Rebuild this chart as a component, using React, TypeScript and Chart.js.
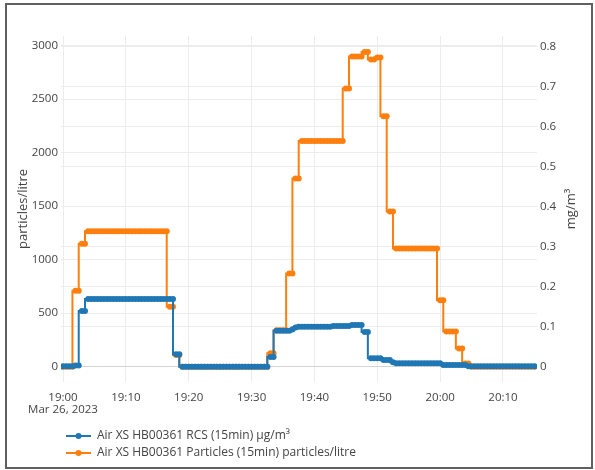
import React, { useEffect, useRef } from 'react';
import { Chart, registerables } from 'chart.js';

Chart.register(...registerables);

// ---- data (one sample every 30 s, minutes after 19:00) ----
const sampleMinutes = [
  0, 0.5, 1, 1.5, 2, 2.5, 3, 3.5, 4, 4.5,
  5, 5.5, 6, 6.5, 7, 7.5, 8, 8.5, 9, 9.5,
  10, 10.5, 11, 11.5, 12, 12.5, 13, 13.5, 14, 14.5,
  15, 15.5, 16, 16.5, 17, 17.5, 18, 18.5, 19, 19.5,
  20, 20.5, 21, 21.5, 22, 22.5, 23, 23.5, 24, 24.5,
  25, 25.5, 26, 26.5, 27, 27.5, 28, 28.5, 29, 29.5,
  30, 30.5, 31, 31.5, 32, 32.5, 33, 33.5, 34, 34.5,
  35, 35.5, 36, 36.5, 37, 37.5, 38, 38.5, 39, 39.5,
  40, 40.5, 41, 41.5, 42, 42.5, 43, 43.5, 44, 44.5,
  45, 45.5, 46, 46.5, 47, 47.5, 48, 48.5, 49, 49.5,
  50, 50.5, 51, 51.5, 52, 52.5, 53, 53.5, 54, 54.5,
  55, 55.5, 56, 56.5, 57, 57.5, 58, 58.5, 59, 59.5,
  60, 60.5, 61, 61.5, 62, 62.5, 63, 63.5, 64, 64.5,
  65, 65.5, 66, 66.5, 67, 67.5, 68, 68.5, 69, 69.5,
  70, 70.5, 71, 71.5, 72, 72.5, 73, 73.5, 74, 74.5,
  75,
];

const particlesPerLitre = [
  0, 0, 0, 0, 710, 710, 1150, 1150, 1265, 1265,
  1265, 1265, 1265, 1265, 1265, 1265, 1265, 1265, 1265, 1265,
  1265, 1265, 1265, 1265, 1265, 1265, 1265, 1265, 1265, 1265,
  1265, 1265, 1265, 1265, 560, 560, 110, 110, 0, 0,
  0, 0, 0, 0, 0, 0, 0, 0, 0, 0,
  0, 0, 0, 0, 0, 0, 0, 0, 0, 0,
  0, 0, 0, 0, 0, 0, 125, 125, 340, 340,
  340, 340, 870, 870, 1760, 1760, 2110, 2110, 2110, 2110,
  2110, 2110, 2110, 2110, 2110, 2110, 2110, 2110, 2110, 2110,
  2600, 2600, 2900, 2900, 2900, 2900, 2940, 2940, 2870, 2870,
  2890, 2890, 2340, 2340, 1450, 1450, 1105, 1105, 1105, 1105,
  1105, 1105, 1105, 1105, 1105, 1105, 1105, 1105, 1105, 1105,
  620, 620, 330, 330, 330, 330, 170, 170, 30, 30,
  0, 0, 0, 0, 0, 0, 0, 0, 0, 0,
  0, 0, 0, 0, 0, 0, 0, 0, 0, 0,
  0,
];

const rcsMgM3 = [
  0.001, 0.001, 0.001, 0.001, 0.003, 0.003, 0.139, 0.139, 0.169, 0.169,
  0.169, 0.169, 0.169, 0.169, 0.169, 0.169, 0.169, 0.169, 0.169, 0.169,
  0.169, 0.169, 0.169, 0.169, 0.169, 0.169, 0.169, 0.169, 0.169, 0.169,
  0.169, 0.169, 0.169, 0.169, 0.169, 0.169, 0.031, 0.031, 0, 0,
  0, 0, 0, 0, 0, 0, 0, 0, 0, 0,
  0, 0, 0, 0, 0, 0, 0, 0, 0, 0,
  0, 0, 0, 0, 0, 0, 0.024, 0.024, 0.09, 0.09,
  0.09, 0.09, 0.09, 0.093, 0.098, 0.1, 0.1, 0.1, 0.1, 0.1,
  0.1, 0.1, 0.1, 0.1, 0.1, 0.1, 0.102, 0.102, 0.102, 0.102,
  0.102, 0.102, 0.104, 0.104, 0.104, 0.104, 0.087, 0.087, 0.021, 0.021,
  0.021, 0.021, 0.017, 0.017, 0.017, 0.011, 0.0085, 0.0085, 0.0085, 0.0085,
  0.0085, 0.0085, 0.0085, 0.0085, 0.0085, 0.0085, 0.0085, 0.0085, 0.0085, 0.0085,
  0.0085, 0.004, 0.004, 0.004, 0.004, 0.004, 0.004, 0.004, 0.004, 0.001,
  0.001, 0.001, 0.001, 0.001, 0.001, 0.001, 0.001, 0.001, 0.001, 0.001,
  0.001, 0.001, 0.001, 0.001, 0.001, 0.001, 0.001, 0.001, 0.001, 0.001,
  0.001,
];

const seriesNames = [
  'Air XS HB00361 RCS (15min) μg/m³',
  'Air XS HB00361 Particles (15min) particles/litre',
];
const seriesColors = ['#1f77b4', '#ff7f0e'];

const xTickMinutes = [0, 10, 20, 30, 40, 50, 60, 70];
const xTickLabels = ['19:00', '19:10', '19:20', '19:30', '19:40', '19:50', '20:00', '20:10'];
const dateLabel = 'Mar 26, 2023';
const leftTicks = [0, 500, 1000, 1500, 2000, 2500, 3000];
const rightTicks = [0, 0.1, 0.2, 0.3, 0.4, 0.5, 0.6, 0.7, 0.8];
const leftTitle = 'particles/litre';
const rightTitle = 'mg/m³';

const FONT = '"Open Sans", "DejaVu Sans", sans-serif';
const TEXT = '#444';
const GRID = '#ececec';
const ZERO = '#d4d4d4';

const framePlugin = {
  id: 'frame',
  beforeDraw(chart: any) {
    const ctx = chart.ctx;
    ctx.save();
    ctx.fillStyle = '#ffffff';
    ctx.fillRect(0, 0, chart.width, chart.height);
    ctx.strokeStyle = '#606060';
    ctx.lineWidth = 2;
    ctx.strokeRect(6, 4, 586, 464);
    ctx.restore();
  },
};

const extrasPlugin = {
  id: 'extras',
  afterDraw(chart: any) {
    const ctx = chart.ctx;
    ctx.save();
    ctx.translate(571, (chart.chartArea.top + chart.chartArea.bottom) / 2);
    ctx.rotate(-Math.PI / 2);
    ctx.font = `13px ${FONT}`;
    ctx.fillStyle = TEXT;
    ctx.textAlign = 'center';
    ctx.textBaseline = 'middle';
    ctx.fillText(rightTitle, 0, 0);
    ctx.restore();

    chart.data.datasets.forEach((ds: any, i: number) => {
      const y = 436 + i * 17;
      ctx.save();
      ctx.strokeStyle = ds.borderColor;
      ctx.lineWidth = 2;
      ctx.beginPath();
      ctx.moveTo(66, y);
      ctx.lineTo(91, y);
      ctx.stroke();
      ctx.fillStyle = ds.borderColor;
      ctx.beginPath();
      ctx.arc(78.5, y, 3, 0, Math.PI * 2);
      ctx.fill();
      ctx.font = `12px ${FONT}`;
      ctx.fillStyle = TEXT;
      ctx.textBaseline = 'middle';
      ctx.textAlign = 'left';
      ctx.fillText(ds.label, 97, y);
      ctx.restore();
    });
  },
};

export default function App() {
  const canvasRef = useRef<HTMLCanvasElement | null>(null);

  useEffect(() => {
    if (!canvasRef.current) return;
    const common = {
      pointBorderWidth: 0,
      pointRadius: 3,
      borderWidth: 2,
      stepped: 'after',
    };
    const chart = new Chart(canvasRef.current, {
      type: 'line',
      data: {
        datasets: [
          {
            ...common,
            label: seriesNames[0],
            data: sampleMinutes.map((m, i) => ({ x: m, y: rcsMgM3[i] })),
            yAxisID: 'yRight',
            borderColor: seriesColors[0],
            backgroundColor: seriesColors[0],
            pointBackgroundColor: seriesColors[0],
          },
          {
            ...common,
            label: seriesNames[1],
            data: sampleMinutes.map((m, i) => ({ x: m, y: particlesPerLitre[i] })),
            yAxisID: 'yLeft',
            borderColor: seriesColors[1],
            backgroundColor: seriesColors[1],
            pointBackgroundColor: seriesColors[1],
          },
        ],
      },
      options: {
        responsive: false,
        animation: false,
        events: [],
        layout: { padding: { top: 36, bottom: 50, left: 0, right: 0 } },
        plugins: {
          legend: { display: false },
          tooltip: { enabled: false },
        },
        scales: {
          x: {
            type: 'linear',
            min: -0.32,
            max: 75.41,
            afterBuildTicks: (scale: any) => {
              scale.ticks = xTickMinutes.map((v) => ({ value: v }));
            },
            afterFit: (scale: any) => {
              scale.height = 38;
            },
            ticks: {
              autoSkip: false,
              maxRotation: 0,
              padding: 9,
              color: TEXT,
              font: { family: FONT, size: 11.5, lineHeight: 1.1 },
              callback: (value: any) => {
                const idx = xTickMinutes.indexOf(Number(value));
                if (idx < 0) return '';
                return idx === 0 ? [xTickLabels[0], dateLabel] : xTickLabels[idx];
              },
            },
            grid: { color: GRID, drawTicks: false, lineWidth: 1 },
            border: { display: false },
          },
          yLeft: {
            type: 'linear',
            position: 'left',
            min: -143,
            max: 3090.7,
            afterBuildTicks: (scale: any) => {
              scale.ticks = leftTicks.map((v) => ({ value: v }));
            },
            afterFit: (scale: any) => {
              scale.width = 61;
            },
            ticks: {
              padding: 3,
              color: TEXT,
              font: { family: FONT, size: 11.5 },
              callback: (value: any) => String(value),
            },
            grid: {
              drawTicks: false,
              color: (c: any) => (c.tick && c.tick.value === 0 ? ZERO : GRID),
            },
            border: { display: false },
            title: {
              display: true,
              text: leftTitle,
              color: TEXT,
              font: { family: FONT, size: 13 },
              padding: { top: 15, bottom: 0 },
            },
          },
          yRight: {
            type: 'linear',
            position: 'right',
            min: -0.03825,
            max: 0.8268,
            afterBuildTicks: (scale: any) => {
              scale.ticks = rightTicks.map((v) => ({ value: v }));
            },
            afterFit: (scale: any) => {
              scale.width = 58;
            },
            ticks: {
              padding: 3,
              color: TEXT,
              font: { family: FONT, size: 11.5 },
              callback: (value: any) => String(value),
            },
            grid: {
              drawTicks: false,
              color: (c: any) => (c.tick && c.tick.value === 0 ? ZERO : GRID),
            },
            border: { display: false },
          },
        },
      } as any,
      plugins: [framePlugin, extrasPlugin],
    });
    return () => chart.destroy();
  }, []);

  return (
    <div style={{ position: 'fixed', left: 0, top: 0, width: 595, height: 470, background: '#fff' }}>
      <canvas ref={canvasRef} width={595} height={470} style={{ display: 'block', width: 595, height: 470 }} />
    </div>
  );
}
